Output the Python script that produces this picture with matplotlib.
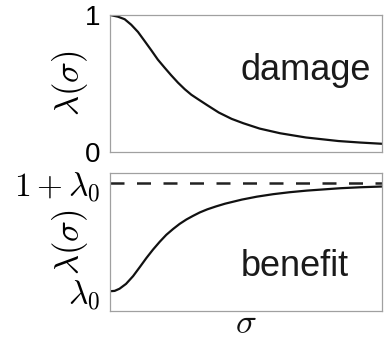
import numpy as np
import matplotlib
matplotlib.use("Agg")
import matplotlib.pyplot as plt

plt.rcParams['font.family'] = ['Liberation Sans', 'DejaVu Sans']
plt.rcParams['mathtext.fontset'] = 'cm'

# sampled curves (sigma scaled to 0..1)
sigma_damage = [0.0, 0.005, 0.029, 0.054, 0.078, 0.103, 0.128, 0.152, 0.176,
                0.201, 0.225, 0.25, 0.275, 0.299, 0.324, 0.358, 0.40, 0.447,
                0.49, 0.55, 0.625, 0.72, 0.84, 0.92, 1.0]
damage = [1.0, 0.998, 0.988, 0.969, 0.929, 0.876, 0.808, 0.742, 0.674,
          0.615, 0.560, 0.506, 0.458, 0.418, 0.385, 0.341, 0.288, 0.242,
          0.210, 0.171, 0.137, 0.106, 0.080, 0.069, 0.060]

lam0 = 0.2
sigma_benefit = [0.0, 0.017, 0.035, 0.059, 0.085, 0.11, 0.134, 0.158, 0.183,
                 0.207, 0.232, 0.256, 0.281, 0.305, 0.33, 0.358, 0.39, 0.423,
                 0.485, 0.54, 0.60, 0.66, 0.723, 0.846, 0.92, 1.0]
benefit = [0.2, 0.203, 0.223, 0.268, 0.340, 0.425, 0.508, 0.585, 0.658,
           0.722, 0.776, 0.823, 0.864, 0.897, 0.929, 0.958, 0.985, 1.010,
           1.048, 1.075, 1.098, 1.116, 1.131, 1.153, 1.162, 1.169]

spine_col = '#a0a0a0'
ink = '#111111'

fig = plt.figure(figsize=(3.84, 3.40), dpi=100)
ax1 = fig.add_axes([110/384, 1 - 152/340, 272/384, 137/340])
ax2 = fig.add_axes([110/384, 1 - 311/340, 272/384, 138/340])

for ax in (ax1, ax2):
    for s in ax.spines.values():
        s.set_color(spine_col)
        s.set_linewidth(0.9)
    ax.set_xticks([])
    ax.tick_params(axis='y', length=0, pad=7)
    ax.set_xlim(0, 1)

# damage panel
ax1.plot(sigma_damage, damage, color=ink, lw=1.6)
ax1.set_ylim(0, 1)
ax1.set_yticks([0, 1], labels=['0', '1'], fontsize=20)
ax1.set_ylabel(r'$\lambda(\sigma)$', fontsize=25)
ax1.yaxis.set_label_coords(-0.072, 0.5)
ax1.text(0.478, 0.526, 'damage', transform=ax1.transAxes, fontsize=26,
         ha='left', va='baseline', color='#1a1a1a')

# benefit panel
ax2.plot(sigma_benefit, benefit, color=ink, lw=1.6)
ax2.axhline(1 + lam0, color='#222222', lw=1.8, linestyle=(0, (5.6, 5.0)))
ax2.set_ylim(0.017, 1.294)
ax2.set_yticks([lam0, 1 + lam0],
               labels=[r'$\lambda_0$', r'$1+\lambda_0$'], fontsize=24)
ax2.set_ylabel(r'$\lambda(\sigma)$', fontsize=25)
ax2.yaxis.set_label_coords(-0.072, 0.5)
ax2.text(0.482, 0.256, 'benefit', transform=ax2.transAxes, fontsize=26,
         ha='left', va='baseline', color='#1a1a1a')
ax2.text(0.5, -0.207, r'$\sigma$', transform=ax2.transAxes, fontsize=25,
         ha='center', va='bottom', color=ink)

fig.savefig('out.png', dpi=100)
